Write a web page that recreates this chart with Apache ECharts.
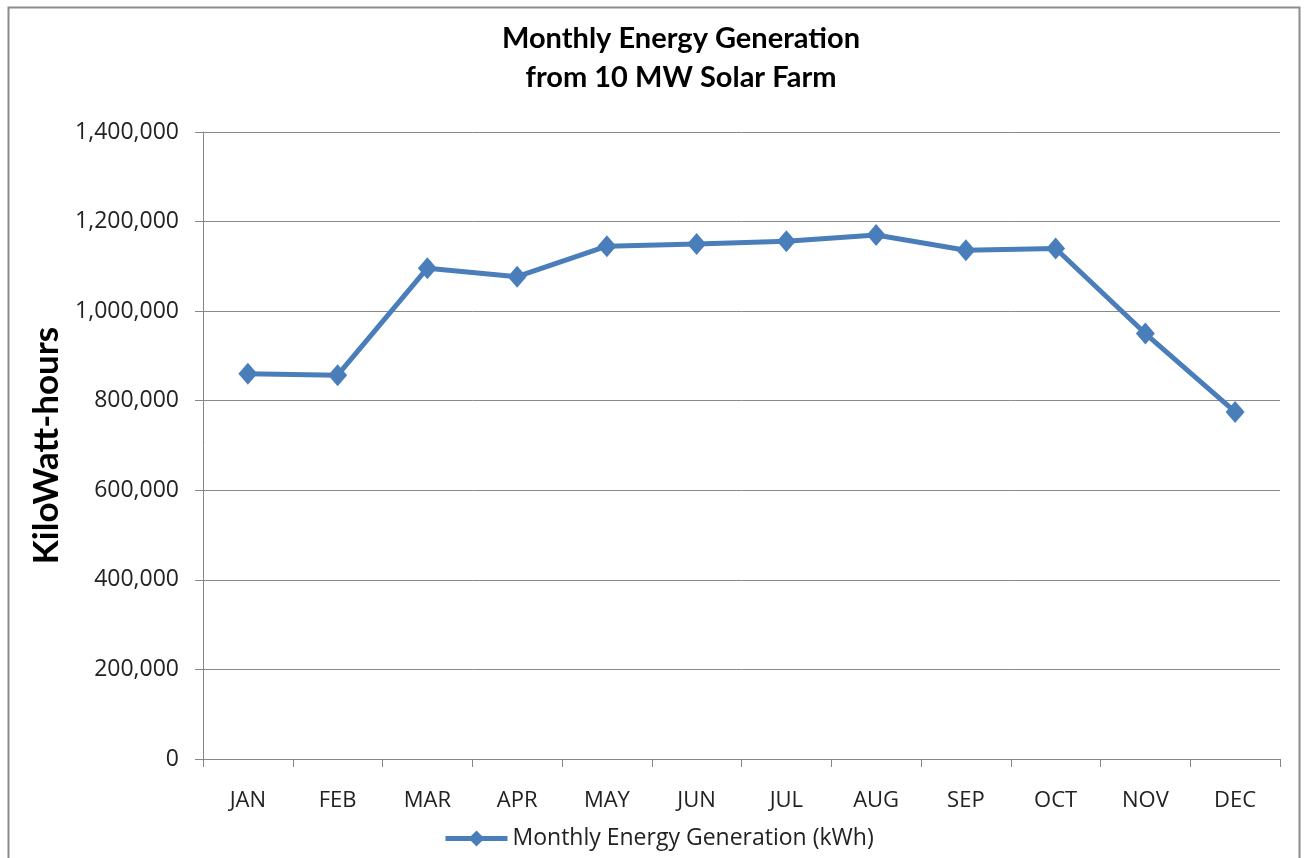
<!DOCTYPE html>
<html><head><meta charset="utf-8">
<script src="https://cdn.jsdelivr.net/npm/echarts@6/dist/echarts.min.js"></script>
<style>html,body{margin:0;padding:0;background:#fff}#c{width:1307px;height:858px}</style>
</head><body><div id="c"></div>
<script>
const categories = ["JAN","FEB","MAR","APR","MAY","JUN","JUL","AUG","SEP","OCT","NOV","DEC"];
const generation = [860000, 857000, 1096000, 1077000, 1145000, 1150000, 1156000, 1170000, 1136000, 1140000, 950000, 775000];
const yTicks = {min: 0, max: 1400000, interval: 200000};
const seriesName = "Monthly Energy Generation (kWh)";

const chart = echarts.init(document.getElementById('c'), null, {renderer: 'canvas'});
chart.setOption({
  backgroundColor: '#fff',
  animation: false,
  graphic: [{type: 'rect', shape: {x: 8.5, y: 7.5, width: 1291, height: 860}, style: {fill: 'none', stroke: '#8c8c8c', lineWidth: 2}}],
  title: {
    text: 'Monthly Energy Generation\nfrom 10 MW Solar Farm',
    left: 676, textAlign: 'center', top: 14,
    textStyle: {fontFamily: 'Lato', fontWeight: 'bold', fontSize: 29, lineHeight: 39, color: '#000'}
  },
  legend: {
    top: 822, left: 438,
    itemWidth: 62, itemHeight: 20, itemGap: 4,
    lineStyle: {width: 5},
    textStyle: {fontFamily: 'Open Sans', fontSize: 23, color: '#222'},
    data: [seriesName]
  },
  grid: {left: 203, right: 27, top: 132, bottom: 99, containLabel: false},
  xAxis: {
    type: 'category', data: categories, boundaryGap: true,
    axisLine: {lineStyle: {color: '#868686', width: 1}},
    axisTick: {show: true, length: 8, lineStyle: {color: '#868686'}},
    axisLabel: {fontFamily: 'Open Sans', fontSize: 22, color: '#222', margin: 31}
  },
  yAxis: {
    type: 'value', min: yTicks.min, max: yTicks.max, interval: yTicks.interval,
    name: 'KiloWatt-hours', nameLocation: 'middle', nameGap: 137, nameRotate: 90,
    nameTextStyle: {fontFamily: 'Lato', fontWeight: 'bold', fontSize: 35, color: '#000'},
    axisLine: {show: true, lineStyle: {color: '#868686', width: 1}},
    axisTick: {show: true, length: 8, lineStyle: {color: '#868686'}},
    splitLine: {lineStyle: {color: '#8a8a8a', width: 1}},
    axisLabel: {fontFamily: 'Open Sans', fontSize: 23, color: '#222', margin: 24,
      formatter: v => v.toLocaleString('en-US')}
  },
  series: [{
    name: seriesName, type: 'line', data: generation,
    symbol: 'diamond', symbolSize: [19, 22],
    lineStyle: {color: '#4a7ebb', width: 5},
    itemStyle: {color: '#4a7ebb'}
  }]
});
</script></body></html>
